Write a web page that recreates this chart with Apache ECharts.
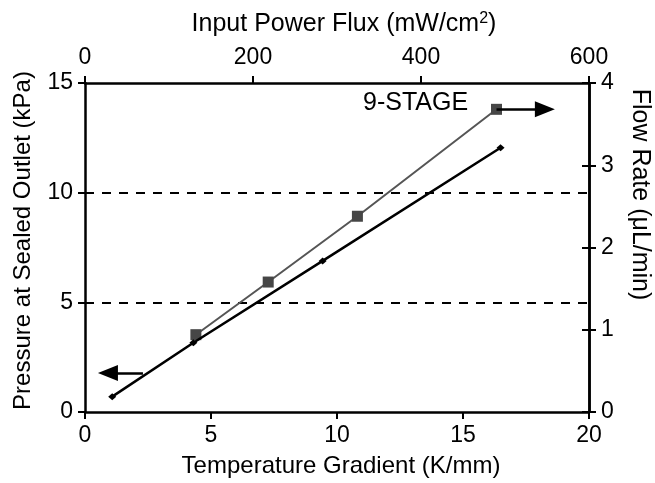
<!DOCTYPE html>
<html>
<head>
<meta charset="utf-8">
<script src="https://cdn.jsdelivr.net/npm/echarts@6/dist/echarts.min.js"></script>
<style>
    html, body { margin: 0; padding: 0; background: #fff; }
    #main { width: 655px; height: 483px; }
</style>
</head>
<body>
<div id="main"></div>
<script>
    // pressure (left axis) vs temperature gradient
    var pressureX = [1.08, 4.30, 9.43, 16.49];
    var pressureY = [0.70, 3.16, 6.89, 12.05];
    // flow rate (right axis) vs temperature gradient
    var flowX = [4.40, 7.27, 10.81, 16.33];
    var flowY = [0.94, 1.58, 2.38, 3.68];

    var font = 'Liberation Sans, Arial, sans-serif';
    var axisLabel = { color: '#000', fontSize: 23, fontFamily: font };
    var axisLine = { show: true, onZero: false, lineStyle: { color: '#000', width: 2.5 } };
    var axisTick = { show: true, length: 7, lineStyle: { color: '#000', width: 2 } };

    function pairs(xs, ys) {
        return xs.map(function (x, i) { return [x, ys[i]]; });
    }

    var myChart = echarts.init(document.getElementById('main'));
    var option = {
        animation: false,
        grid: { left: 85, right: 66, top: 83, bottom: 71, outerBoundsMode: 'none' },
        xAxis: [
            {
                type: 'value', position: 'bottom', min: 0, max: 20, interval: 5,
                name: 'Temperature Gradient (K/mm)', nameLocation: 'middle', nameGap: 42,
                nameTextStyle: { color: '#000', fontSize: 24, fontFamily: font, padding: [0, 0, 0, 8] },
                axisLine: axisLine, axisTick: axisTick,
                axisLabel: Object.assign({ margin: 12 }, axisLabel),
                splitLine: { show: false }
            },
            {
                type: 'value', position: 'top', min: 0, max: 600, interval: 200,
                name: '{a|Input Power Flux (mW/cm}{s|2}{a|)}', nameLocation: 'middle', nameGap: 46,
                nameTextStyle: {
                    padding: [0, 0, 0, 14],
                    rich: {
                        a: { color: '#000', fontSize: 25, fontFamily: font },
                        s: { color: '#000', fontSize: 16, fontFamily: font, verticalAlign: 'top', padding: [0, 0, 10, 0] }
                    }
                },
                axisLine: axisLine, axisTick: axisTick,
                axisLabel: Object.assign({ margin: 14 }, axisLabel),
                splitLine: { show: false }
            }
        ],
        yAxis: [
            {
                type: 'value', position: 'left', min: 0, max: 15, interval: 5,
                name: 'Pressure at Sealed Outlet (kPa)', nameLocation: 'middle', nameGap: 50,
                nameTextStyle: { color: '#000', fontSize: 24, fontFamily: font, padding: [0, 0, 0, 14] },
                axisLine: axisLine, axisTick: axisTick,
                axisLabel: Object.assign({ margin: 12 }, axisLabel),
                splitLine: {
                    show: true, showMinLine: false, showMaxLine: false,
                    lineStyle: { color: '#000', width: 2, type: [9, 8] }
                }
            },
            {
                type: 'value', position: 'right', min: 0, max: 4, interval: 1,
                name: 'Flow Rate (μL/min)', nameLocation: 'middle', nameGap: 38, nameRotate: -90,
                nameTextStyle: { color: '#000', fontSize: 25, fontFamily: font, padding: [0, 106, 0, 0] },
                axisLine: axisLine, axisTick: axisTick,
                axisLabel: Object.assign({ margin: 12 }, axisLabel),
                splitLine: { show: false }
            },
            {
                // inner half of the crossing ticks on the right axis
                type: 'value', position: 'right', min: 0, max: 4, interval: 1,
                axisLine: axisLine,
                axisTick: { show: true, inside: true, length: 7, lineStyle: { color: '#000', width: 2 } },
                axisLabel: { show: false },
                splitLine: { show: false }
            }
        ],
        series: [
            {
                name: 'Pressure',
                type: 'line',
                xAxisIndex: 0, yAxisIndex: 0,
                data: pairs(pressureX, pressureY),
                symbol: 'diamond', symbolSize: [8, 7],
                itemStyle: { color: '#000' },
                lineStyle: { color: '#000', width: 2.5 },
                markLine: {
                    silent: true, symbol: ['none', 'triangle'], symbolSize: [16, 20],
                    label: { show: false },
                    lineStyle: { color: '#000', width: 2.5, type: 'solid' },
                    data: [[{ coord: [2.30, 1.78] }, { coord: [0.91, 1.78] }]]
                },
                z: 3
            },
            {
                name: 'Flow',
                type: 'line',
                xAxisIndex: 0, yAxisIndex: 1,
                data: pairs(flowX, flowY),
                symbol: 'rect', symbolSize: 11,
                itemStyle: { color: '#464646' },
                lineStyle: { color: '#555', width: 2 },
                markLine: {
                    silent: true, symbol: ['none', 'triangle'], symbolSize: [16, 20],
                    label: { show: false },
                    lineStyle: { color: '#000', width: 2.5, type: 'solid' },
                    data: [[{ coord: [16.33, 3.68] }, { coord: [18.25, 3.68] }]]
                },
                z: 2
            }
        ],
        graphic: [
            {
                type: 'text', left: 363, top: 91,
                style: { text: '9-STAGE', fill: '#000', fontSize: 25, fontFamily: font }
            }
        ]
    };
    myChart.setOption(option, true);
</script>
</body>
</html>
